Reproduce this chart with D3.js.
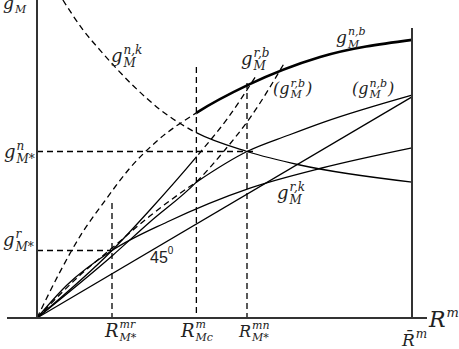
<!DOCTYPE html>
<html lang="en">
<head>
<meta charset="UTF-8">
<title>g_M against R^m</title>
<script src="https://cdn.jsdelivr.net/npm/d3@7"></script>
<style>
  body { margin: 0; background: #fff; }
  text { fill: #222; }
  .math { font-family: "DejaVu Serif", serif; font-style: italic; }
</style>
</head>
<body>
<script>
// values (x = R^m, y = g_M, R-bar = 10)
const rStar = [2.0, 4.25, 5.6];        // R^mr_M*, R^m_Mc, R^mn_M*
const rStarTop = [3.83, 8.37, 7.83];   // where each drop line starts
const gStar = [5.55, 2.25];            // g^n_M*, g^r_M*
const gStarEnd = [5.85, 2.0];          // how far the guide runs to the right
const rBar = 10;
const rBarTop = 9.67;

const gNK = [[0.69, 10.6], [1.23, 9.6], [1.68, 8.93], [2.56, 7.75], [3.28, 6.95],
             [4.21, 6.2], [5.6, 5.55], [7.01, 5.1], [10, 4.53]];
const gNB = [[0, 0], [0.61, 1.53], [1.15, 2.73], [1.79, 3.87], [2.48, 5.0], [3.2, 5.9],
             [4.24, 6.83], [5.63, 7.77], [7.55, 8.7], [10, 9.27]];
const gNBalt = [[0, 0], [1.15, 1.43], [2.0, 2.33], [3.01, 3.4], [4.25, 4.53],
                [5.6, 5.55], [6.72, 6.1], [7.65, 6.53], [10, 7.43]];
const gRB = [[0, 0], [2.0, 2.25], [3.01, 3.6], [4.25, 5.37], [5.09, 6.67], [5.87, 8.13]];
const gRBalt = [[0, 0], [2.0, 2.07], [3.01, 3.2], [4.25, 4.53], [5.01, 5.6], [5.68, 6.67], [6.61, 8.53]];
const gRK = [[0, 0], [0.8, 1.1], [2.0, 2.25], [3.47, 3.2], [5.68, 4.33], [7.6, 5.0], [10, 5.67]];
const line45 = [[0, 0], [10, 7.37]];

const width = 459, height = 349;
const x = d3.scaleLinear().domain([0, 10]).range([37, 412]);
const y = d3.scaleLinear().domain([0, 10]).range([318, 18]);

const svg = d3.select("body").append("svg")
    .attr("width", width)
    .attr("height", height)
    .attr("viewBox", [0, 0, width, height]);

// clip at R^m_Mc so a curve can change style there
const defs = svg.append("defs");
defs.append("clipPath").attr("id", "left")
  .append("rect").attr("x", 0).attr("y", 0).attr("width", x(rStar[1])).attr("height", height);
defs.append("clipPath").attr("id", "right")
  .append("rect").attr("x", x(rStar[1])).attr("y", 0).attr("width", width).attr("height", height);

const line = d3.line().x(d => x(d[0])).y(d => y(d[1])).curve(d3.curveMonotoneX);
const dash = "6,4";

function curve(data, clip, dashed, w) {
  svg.append("path")
    .attr("d", line(data))
    .attr("fill", "none")
    .attr("stroke", "#000")
    .attr("stroke-width", w || 1.3)
    .attr("stroke-dasharray", dashed ? dash : null)
    .attr("clip-path", clip ? `url(#${clip})` : null);
}

// dashed left of R^m_Mc, solid to the right
curve(gNK, "left", true);
curve(gNK, "right", false);
curve(gNB, "left", true);
curve(gNB, "right", false, 2.6);
curve(gNBalt, "left", true);
curve(gNBalt, "right", false);
// solid left of R^m_Mc, dashed to the right
curve(gRB, "left", false);
curve(gRB, "right", true);
curve(gRBalt, "left", false);
curve(gRBalt, "right", true);
curve(gRK, null, false);
curve(line45, null, false);

// guide lines
rStar.forEach((r, i) => {
  svg.append("line")
    .attr("x1", x(r)).attr("x2", x(r))
    .attr("y1", y(rStarTop[i])).attr("y2", y(0))
    .attr("stroke", "#000").attr("stroke-width", 1.3).attr("stroke-dasharray", dash);
});
gStar.forEach((g, i) => {
  svg.append("line")
    .attr("x1", x(0)).attr("x2", x(gStarEnd[i]))
    .attr("y1", y(g)).attr("y2", y(g))
    .attr("stroke", "#000").attr("stroke-width", 1.3).attr("stroke-dasharray", dash);
});

// axes
const axisColor = "#333";
svg.append("line").attr("x1", x(-0.8)).attr("x2", x(10.4)).attr("y1", y(0)).attr("y2", y(0))
  .attr("stroke", axisColor).attr("stroke-width", 2);
svg.append("line").attr("x1", x(0)).attr("x2", x(0)).attr("y1", y(0)).attr("y2", 0)
  .attr("stroke", axisColor).attr("stroke-width", 2);
svg.append("line").attr("x1", x(rBar)).attr("x2", x(rBar)).attr("y1", y(0)).attr("y2", y(rBarTop))
  .attr("stroke", axisColor).attr("stroke-width", 2);

// math labels: base with stacked super/subscript
function label(px, py, base, sup, sub, size, opts = {}) {
  const g = svg.append("g").attr("class", "math");
  const b = g.append("text").attr("x", px).attr("y", py).attr("font-size", size).text(base);
  const bx = px + b.node().getComputedTextLength() + 1;
  const small = opts.small || Math.round(size * 0.66);
  let w = 0;
  if (sup) {
    const t = g.append("text").attr("x", bx).attr("y", py - (opts.supDy ?? size * 0.45)).attr("font-size", small).text(sup);
    w = Math.max(w, t.node().getComputedTextLength());
  }
  if (sub) {
    const t = g.append("text").attr("x", bx).attr("y", py + (opts.subDy ?? size * 0.28)).attr("font-size", small).text(sub);
    w = Math.max(w, t.node().getComputedTextLength());
  }
  if (opts.post) {
    g.append("text").attr("x", bx + w + 1).attr("y", py).attr("font-size", size).text(opts.post);
  }
}

label(3, 9, "g", null, "M", 17, { subDy: 4 });
label(111, 62, "g", "n,k", "M", 18);
label(241, 65, "g", "r,b", "M", 18);
label(273, 94, "(g", "r,b", "M", 16, { post: ")" });
label(336, 43, "g", "n,b", "M", 17);
label(352, 94, "(g", "n,b", "M", 16, { post: ")" });
label(277, 199, "g", "r,k", "M", 18);
label(4, 158, "g", "n", "M*", 18);
label(3, 246, "g", "r", "M*", 18);

label(105, 337, "R", "mr", "M*", 18, { small: 11, supDy: 9, subDy: 4 });
label(181, 337, "R", "m", "Mc", 18, { small: 11, supDy: 9, subDy: 4 });
label(239, 337, "R", "mn", "M*", 16, { small: 11, supDy: 8, subDy: 4 });
label(429, 327, "R", "m", null, 22, { small: 13 });
label(402, 346, "R\u0304", "m", null, 17, { small: 12, supDy: 8 });

// 45 degree mark
svg.append("text")
  .attr("x", 150).attr("y", 263)
  .attr("font-family", "'Liberation Sans', Arial, sans-serif")
  .attr("font-size", 16)
  .text("45")
  .append("tspan").attr("dy", -9).attr("font-size", 10).text("0");
</script>
</body>
</html>
